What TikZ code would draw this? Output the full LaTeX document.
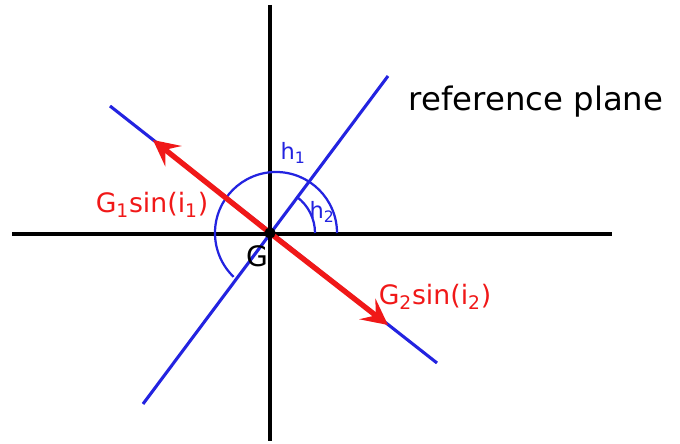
\documentclass[tikz,border=0pt]{standalone}
\usepackage{fontspec}
\setmainfont{DejaVu Sans}
\usetikzlibrary{arrows.meta, positioning}
\definecolor{planeblue}{HTML}{2323E0}
\definecolor{forcered}{HTML}{F01818}

\tikzset{
  axis/.style={black, line width=2.2pt},
  planeline/.style={planeblue, line width=2.2pt},
  anglearc/.style={planeblue, line width=1.6pt},
  force/.style={forcered, line width=3.8pt, -{Stealth[length=6.5mm, width=6.5mm, inset=2.6mm]}},
  gdot/.style={circle, fill=black, inner sep=0pt, minimum size=8pt},
  forcelabel/.style={text=forcered, font=\fontsize{19}{21}\selectfont},
  anglelabel/.style={text=planeblue, font=\fontsize{16}{18}\selectfont}
}

\begin{document}
\begin{tikzpicture}[x=0.025cm, y=-0.025cm]
\useasboundingbox (0,0) rectangle (680,444);

% Centre of gravity
\node[gdot] (G) at (270,233) {};
\coordinate (arcc) at (276,233);

% Axes end points
\coordinate (vtop) at (270,5);
\coordinate (vbot) at (270,441);
\coordinate (hleft) at (12,234);
\coordinate (hright) at (612,234);

% Blue lines end points
\coordinate (aLow) at (143,404);
\coordinate (aHigh) at (388,76);
\coordinate (bLow) at (437,363);
\coordinate (bHigh) at (110,106);

% Force arrow tips
\coordinate (f1) at (153,140);
\coordinate (f2) at (388,325);

% Blue lines
\draw[planeline] (aLow) -- (aHigh);
\draw[planeline] (bHigh) -- (bLow);

% Axes
\draw[axis] (vtop) -- (vbot);
\draw[axis] (hleft) -- (hright);

% Angle arcs
\draw[anglearc] ([xshift=1.525cm]arcc) arc[start angle=0, end angle=226, radius=1.525cm];
\draw[anglearc] ([xshift=1.125cm]G.center) arc[start angle=0, end angle=53, radius=1.125cm];
\node[anglelabel] (h1) at (293,153) {h\textsubscript{1}};
\node[anglelabel] (h2) at (322,212) {h\textsubscript{2}};

% Forces
\draw[force] (G.center) -- (f1);
\draw[force] (G.center) -- (f2);
\node[gdot] at (G) {};

% Labels
\node[forcelabel] (g1) at (152,205) {G\textsubscript{1}sin(i\textsubscript{1})};
\node[forcelabel] (g2) at (435,297) {G\textsubscript{2}sin(i\textsubscript{2})};
\node[font=\fontsize{20}{22}\selectfont] (glabel) at (257,256) {G};
\node[font=\fontsize{23}{26}\selectfont, anchor=west] (plane) at (404,102) {reference plane};

\end{tikzpicture}
\end{document}
